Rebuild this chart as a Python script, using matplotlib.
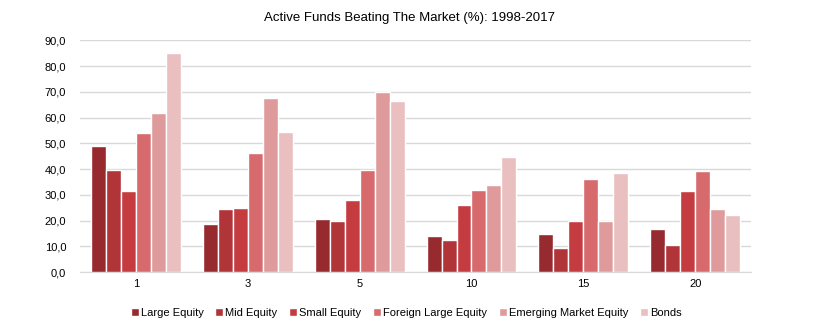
import numpy as np
from matplotlib import pyplot as plt

periods = ["1", "3", "5", "10", "15", "20"]
series = ["Large Equity", "Mid Equity", "Small Equity", "Foreign Large Equity",
          "Emerging Market Equity", "Bonds"]
large_equity = [49.0, 18.8, 20.5, 13.9, 14.7, 16.9]
mid_equity = [39.8, 24.4, 20.0, 12.6, 9.3, 10.6]
small_equity = [31.6, 25.0, 28.1, 26.2, 19.9, 31.3]
foreign_large = [53.9, 46.2, 39.5, 32.0, 36.2, 39.3]
emerging_market = [61.9, 67.6, 70.1, 33.7, 19.9, 24.6]
bonds = [85.2, 54.2, 66.3, 44.5, 38.6, 22.3]
colors = ["#962a2f", "#b03438", "#c53c40", "#d66a6c", "#df9b9c", "#e9bfc0"]

plt.rcParams["font.family"] = ["Liberation Sans", "DejaVu Sans"]

fig = plt.figure(figsize=(8.2, 3.29), dpi=100)
ax = fig.add_axes([0.0976, 0.173, 0.8184, 0.7045])

values = [large_equity, mid_equity, small_equity, foreign_large, emerging_market, bonds]
x = np.arange(len(periods))
pitch = 0.134
for i, (name, vals) in enumerate(zip(series, values)):
    offset = (i - 2.5) * pitch
    ax.bar(x + offset, vals, width=pitch, color=colors[i], edgecolor="white",
           linewidth=1.0, label=name, zorder=3)

ax.set_xlim(-0.5, 5.5)
ax.set_ylim(0, 90)
ax.set_yticks(np.arange(0, 91, 10))
ax.set_yticklabels([f"{v:.1f}".replace(".", ",") for v in np.arange(0, 91, 10)])
ax.set_xticks(x)
ax.set_xticklabels(periods)
ax.tick_params(axis="both", length=0, labelsize=8, colors="black")
ax.tick_params(axis="y", pad=10)
ax.tick_params(axis="x", pad=5)
ax.grid(axis="y", color="#d9d9d9", linewidth=1, zorder=0)
for s in ["left", "right", "top"]:
    ax.spines[s].set_visible(False)
ax.spines["bottom"].set_color("#d9d9d9")

fig.text(0.5, 0.945, "Active Funds Beating The Market (%): 1998-2017", ha="center",
         va="center", fontsize=9.5)

ax.legend(loc="center", bbox_to_anchor=(0.486, -0.177), ncol=6, frameon=False,
          fontsize=8, handlelength=0.7, handleheight=0.7, handletextpad=0.2,
          columnspacing=1.05)

fig.savefig("out.png")
